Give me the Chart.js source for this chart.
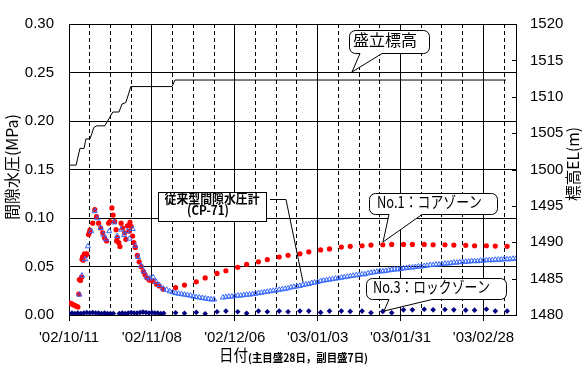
<!DOCTYPE html>
<html>
<head>
<meta charset="utf-8">
<script src="https://cdn.jsdelivr.net/npm/chart.js@4"></script>
<style>
  html, body { margin: 0; padding: 0; background: #fff; }
  canvas { display: block; }
</style>
</head>
<body>
<canvas id="chart" width="588" height="369"></canvas>
<script>
// x values are days counted from 2002/10/11
const dateLabels = ["'02/10/11", "'02/11/08", "'02/12/06", "'03/01/03", "'03/01/31", "'03/02/28"];

// 盛立標高 (right axis, m)
const fillDays = [0, 2.4, 3.7, 5.1, 5.7, 7.1, 8.4, 9.4, 12.1, 13.8, 14.8, 16.9, 17.9, 19.2, 20.9, 34.8, 35.8, 147.6];
const fillElev = [1500.6, 1500.6, 1502.9, 1502.9, 1504.2, 1504.2, 1505.8, 1506.0, 1506.0, 1507.2, 1507.9, 1507.9, 1509.0, 1509.2, 1511.4, 1511.4, 1512.3, 1512.3];

// No.1 コアゾーン (MPa)
const coreDays = [0.3, 0.8, 1.2, 1.6, 2.1, 2.5, 3.0, 3.3, 3.5, 3.9, 4.2, 4.4, 4.6, 4.8, 5.2, 5.5, 5.7, 6.0, 6.6, 6.9, 7.1, 8.0, 8.7, 9.3,
  10.0, 10.7, 11.4, 12.0, 12.7, 13.4, 13.8, 14.5, 14.9, 15.4, 15.9, 16.1, 16.3, 16.8, 17.2, 17.6, 18.1, 18.8, 19.2, 19.7,
  20.4, 20.6, 21.0, 21.5, 21.9, 22.4, 23.1, 23.7, 24.4, 25.1, 25.7, 26.4, 27.1, 27.8, 28.4, 29.6, 30.5, 31.8,
  36, 39, 43, 46, 50, 53, 57, 60, 64, 67, 71, 74, 78, 81, 85, 88, 92, 95, 99, 102, 106, 109, 113, 116, 120, 123, 127, 130, 134, 137, 141, 144, 148];
const coreMPa = [0.0123, 0.0117, 0.011, 0.0103, 0.0097, 0.009, 0.0083, 0.0216, 0.0366, 0.0356, 0.039, 0.0575, 0.060, 0.0565, 0.063, 0.0615, 0.0615, 0.063, 0.083, 0.085, 0.0875, 0.0947, 0.1087, 0.1014,
  0.0947, 0.0897, 0.0847, 0.0797, 0.0764, 0.0947, 0.0964, 0.1104, 0.103, 0.0964, 0.088, 0.0764, 0.0797, 0.0747, 0.0707, 0.0947, 0.0897, 0.0847, 0.078, 0.092,
  0.0864, 0.0954, 0.0914, 0.0814, 0.0747, 0.0697, 0.0615, 0.0548, 0.0498, 0.0449, 0.0416, 0.0382, 0.0362, 0.0356, 0.0349, 0.0316, 0.0299, 0.0266,
  0.0282, 0.0309, 0.0342, 0.0382, 0.0429, 0.0456, 0.0492, 0.0522, 0.0548, 0.0571, 0.0598, 0.0615, 0.0631, 0.0651, 0.0671, 0.0681, 0.0701, 0.0708,
  0.0714, 0.0721, 0.0724, 0.0728, 0.0728, 0.0728, 0.0728, 0.0724, 0.0724, 0.0721, 0.0718, 0.0714, 0.0714, 0.0711, 0.0708];

// 従来型間隙水圧計 (CP-71) (MPa)
const cp71Days = [3.5, 4.4, 5.5, 6.4, 7.5, 8.7, 9.6, 10.7, 11.6, 12.5, 13.6, 15.2, 16.3, 17.6, 18.6, 19.7, 20.4, 21.5, 22.4, 23.3,
  24.4, 25.3, 26.2, 27.3, 28.4, 29.4, 30.5, 31.8,
  33, 34, 35, 36, 37, 38, 39, 40, 41, 42, 43, 44, 45, 46, 47, 48, 49, 52, 53, 54, 55, 56, 57, 58, 59, 60,
  61, 62, 63, 64, 65, 66, 67, 68, 69, 70, 71, 72, 73, 74, 75, 76, 77, 78, 79, 80, 81, 82, 83, 84, 85, 86, 87, 88, 89, 90,
  91, 92, 93, 94, 95, 96, 97, 98, 99, 100, 101, 102, 103, 104, 105, 106, 107, 108, 109, 110, 111, 112, 113, 114, 115, 116, 117, 118, 119, 120,
  121, 122, 123, 124, 125, 126, 127, 128, 129, 130, 131, 132, 133, 134, 135, 136, 137, 138, 139, 140, 141, 142, 143, 144, 145, 146, 147, 148, 149, 150, 151];
const cp71MPa = [0.021, 0.0406, 0.0575, 0.0708, 0.0864, 0.107, 0.0997, 0.0897, 0.083, 0.078, 0.0864, 0.0954, 0.0814, 0.088, 0.0824, 0.0864, 0.0787, 0.0887, 0.0714, 0.0598,
  0.0508, 0.0449, 0.0389, 0.0376, 0.0389, 0.0342, 0.0309, 0.0272,
  0.026, 0.0245, 0.0235, 0.0225, 0.022, 0.0215, 0.021, 0.0205, 0.020, 0.019, 0.0185, 0.018, 0.0175, 0.017, 0.0165, 0.016, 0.016, 0.018, 0.0185, 0.019, 0.019, 0.0195, 0.020, 0.020, 0.0205, 0.021,
  0.021, 0.0215, 0.022, 0.0225, 0.023, 0.0235, 0.024, 0.0245, 0.025, 0.0255, 0.026, 0.0265, 0.027, 0.0275, 0.0285, 0.029, 0.0295, 0.030, 0.031, 0.0315, 0.032, 0.033, 0.0335, 0.034, 0.035, 0.0355, 0.036, 0.0365, 0.037, 0.0375,
  0.038, 0.0385, 0.039, 0.0395, 0.040, 0.0405, 0.041, 0.0415, 0.042, 0.042, 0.043, 0.0435, 0.044, 0.0445, 0.045, 0.045, 0.0455, 0.046, 0.0465, 0.047, 0.047, 0.0475, 0.048, 0.0485, 0.049, 0.049, 0.0495, 0.050, 0.050, 0.0505,
  0.051, 0.0515, 0.0515, 0.052, 0.052, 0.0525, 0.053, 0.053, 0.0535, 0.054, 0.054, 0.0545, 0.0545, 0.055, 0.055, 0.0555, 0.0555, 0.0555, 0.056, 0.056, 0.0565, 0.0565, 0.0565, 0.057, 0.057, 0.057, 0.0575, 0.0575, 0.0575, 0.058, 0.058];

// No.3 ロックゾーン (MPa)
const rockDays = [0, 1, 2, 3, 4, 5, 6, 7, 8, 9, 10, 11, 12, 13, 14, 15, 17, 18, 19, 20, 21, 22, 23, 24, 25, 26, 27, 28, 29, 30, 31,
  32, 36, 39, 43, 46, 50, 53, 57, 60, 64, 67, 71, 74, 78, 81, 85, 88, 92, 95, 99, 102, 106, 109, 113, 116, 120, 123, 127, 130, 134, 137, 141, 144, 148];
const rockMPa = [0.0015, 0.002, 0.0015, 0.002, 0.0015, 0.002, 0.0025, 0.002, 0.0025, 0.002, 0.002, 0.0015, 0.002, 0.0015, 0.0015, 0.0015, 0.0015, 0.002, 0.0015, 0.002, 0.0025, 0.002, 0.002, 0.0025, 0.003, 0.0025, 0.002, 0.0025, 0.002, 0.002, 0.0015,
  0.0017, 0.0023, 0.0017, 0.0027, 0.0013, 0.0033, 0.004, 0.0033, 0.0017, 0.004, 0.0033, 0.004, 0.0033, 0.004, 0.004, 0.0027, 0.004, 0.004, 0.0037, 0.004, 0.0023, 0.0037, 0.0023, 0.0053, 0.0053, 0.006, 0.0053, 0.0057, 0.0053, 0.005, 0.005, 0.006, 0.004, 0.004];

const pts = (xs, ys) => xs.map((x, i) => ({ x: x, y: ys[i] }));

const JP = '"Noto Sans CJK JP", sans-serif';

// rounded balloon with a pointer from the bottom edge
function balloon(ctx, x, y, w, h, r, b1, b2, tx, ty) {
  ctx.beginPath();
  ctx.moveTo(x + r, y);
  ctx.lineTo(x + w - r, y);
  ctx.arcTo(x + w, y, x + w, y + r, r);
  ctx.lineTo(x + w, y + h - r);
  ctx.arcTo(x + w, y + h, x + w - r, y + h, r);
  ctx.lineTo(b2, y + h);
  ctx.lineTo(tx, ty);
  ctx.lineTo(b1, y + h);
  ctx.lineTo(x + r, y + h);
  ctx.arcTo(x, y + h, x, y + h - r, r);
  ctx.lineTo(x, y + r);
  ctx.arcTo(x, y, x + r, y, r);
  ctx.closePath();
  ctx.fillStyle = '#fff';
  ctx.fill();
  ctx.stroke();
}

const overlay = {
  id: 'overlay',
  afterDraw(chart) {
    const ctx = chart.ctx;
    const area = chart.chartArea;
    const y1 = chart.scales.y1;
    ctx.save();
    ctx.strokeStyle = '#000';
    ctx.lineWidth = 1;

    // inward tick marks on the right axis
    y1.ticks.forEach(t => {
      const py = Math.round(y1.getPixelForValue(t.value)) + 0.5;
      ctx.beginPath();
      ctx.moveTo(area.right - 4, py);
      ctx.lineTo(area.right, py);
      ctx.stroke();
    });

    // callouts
    balloon(ctx, 349.5, 30.5, 80, 23, 6, 360, 382, 352, 72);
    balloon(ctx, 369.5, 193.5, 128, 21, 6, 389, 422, 383, 242);
    balloon(ctx, 366.5, 278.5, 140, 21, 6, 389, 432, 384, 311);

    ctx.fillStyle = '#000';
    ctx.textBaseline = 'middle';
    ctx.textAlign = 'left';
    ctx.font = '16px ' + JP;
    ctx.fillText('盛立標高', 353, 40, 64);
    ctx.fillText('No.1：コアゾーン', 377, 202, 105);
    ctx.fillText('No.3：ロックゾーン', 373, 287, 117);

    // CP-71 label box and leader
    ctx.fillStyle = '#fff';
    ctx.fillRect(158.5, 192.5, 108, 29);
    ctx.strokeRect(158.5, 192.5, 108, 29);
    ctx.beginPath();
    ctx.moveTo(270, 199.5);
    ctx.lineTo(286, 199.5);
    ctx.lineTo(303, 282);
    ctx.stroke();
    ctx.fillStyle = '#000';
    ctx.textAlign = 'center';
    ctx.font = 'bold 13px ' + JP;
    ctx.fillText('従来型間隙水圧計', 212, 198, 95);
    ctx.fillText('(CP-71)', 208, 210, 42);

    // axis titles
    ctx.textAlign = 'left';
    ctx.font = '16px ' + JP;
    ctx.fillText('日付', 219, 355, 29);
    ctx.font = 'bold 11px ' + JP;
    ctx.fillText('(主目盛28日，副目盛7日)', 248, 358, 120);

    ctx.textAlign = 'center';
    ctx.font = '16px ' + JP;
    ctx.save();
    ctx.translate(12, 167);
    ctx.rotate(-Math.PI / 2);
    ctx.fillText('間隙水圧(MPa)', 0, 0, 106);
    ctx.restore();
    ctx.save();
    ctx.translate(573, 164);
    ctx.rotate(-Math.PI / 2);
    ctx.fillText('標高EL(m)', 0, 0, 74);
    ctx.restore();

    ctx.restore();
  }
};

Chart.defaults.font.family = '"Liberation Sans", Arial, sans-serif';
Chart.defaults.color = '#000';

new Chart(document.getElementById('chart'), {
  type: 'scatter',
  data: {
    datasets: [
      {
        label: '従来型間隙水圧計(CP-71)',
        data: pts(cp71Days, cp71MPa),
        yAxisID: 'y',
        pointStyle: 'triangle',
        pointRadius: 3,
        borderWidth: 1,
        borderColor: '#3366ff',
        backgroundColor: 'rgba(255,255,255,0)'
      },
      {
        label: 'No.1:コアゾーン',
        data: pts(coreDays, coreMPa),
        yAxisID: 'y',
        pointStyle: 'circle',
        pointRadius: 2.6,
        borderWidth: 0,
        backgroundColor: '#ff0000'
      },
      {
        label: 'No.3:ロックゾーン',
        data: pts(rockDays, rockMPa),
        yAxisID: 'y',
        pointStyle: 'rectRot',
        pointRadius: 2.8,
        borderWidth: 0,
        backgroundColor: '#000080'
      },
      {
        label: '盛立標高',
        data: pts(fillDays, fillElev),
        yAxisID: 'y1',
        showLine: true,
        borderColor: '#000',
        borderWidth: 1,
        pointRadius: 0
      }
    ]
  },
  options: {
    responsive: false,
    animation: false,
    layout: { padding: { top: 14, left: 0, right: 0, bottom: 0 } },
    plugins: { legend: { display: false }, tooltip: { enabled: false } },
    scales: {
      x: {
        type: 'linear',
        min: 0,
        max: 151,
        afterFit: s => { s.height = 54; },
        ticks: {
          stepSize: 7,
          includeBounds: false,
          autoSkip: false,
          maxRotation: 0,
          padding: 8,
          font: { size: 15 },
          callback: v => (v % 28 === 0 ? dateLabels[v / 28] : '')
        },
        grid: {
          color: '#000',
          lineWidth: 1,
          tickLength: 6,
          tickColor: c => (c.tick && c.tick.value % 28 === 0 ? '#000' : 'rgba(0,0,0,0)')
        },
        border: {
          color: '#000',
          width: 1,
          dash: c => (c.tick && c.tick.value % 28 !== 0 ? [4, 3] : [])
        }
      },
      y: {
        min: 0,
        max: 0.3,
        afterFit: s => { s.width = 69; },
        ticks: { stepSize: 0.05, padding: 15, font: { size: 15 }, callback: v => v.toFixed(2) },
        grid: { color: '#000', drawTicks: false },
        border: { color: '#000' }
      },
      y1: {
        position: 'right',
        min: 1480,
        max: 1520,
        afterFit: s => { s.width = 72; },
        ticks: { stepSize: 5, padding: 14, font: { size: 15 }, callback: v => String(v) },
        grid: { drawOnChartArea: false, drawTicks: false },
        border: { color: '#000' }
      }
    }
  },
  plugins: [overlay]
});
</script>
</body>
</html>
